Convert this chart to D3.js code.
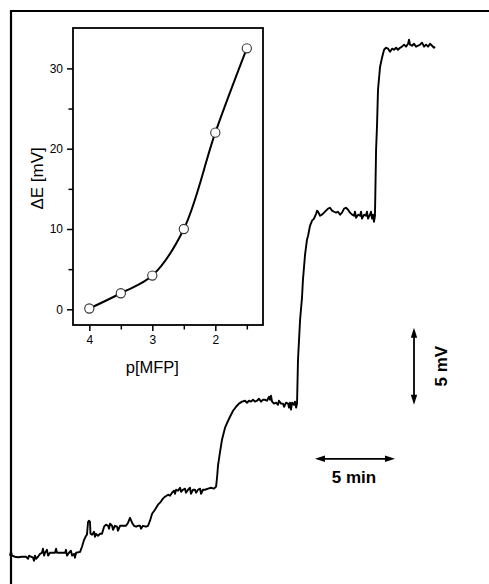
<!DOCTYPE html>
<html><head><meta charset="utf-8">
<script src="https://cdn.jsdelivr.net/npm/d3@7"></script>
<style>body{margin:0;background:#fff} svg{display:block}</style>
</head><body>
<script>
// ---- Main trace: time (min) vs potential change (mV) ----
const traceTime = [0,0.06,0.13,0.31,0.5,0.75,1.0,1.13,1.19,1.31,1.44,1.5,1.56,1.63,1.75,1.88,2.0,2.06,2.13,2.19,2.31,2.38,2.5,2.81,2.88,2.94,3.25,3.44,3.5,3.56,3.69,3.81,3.88,4.0,4.06,4.13,4.38,4.5,4.63,4.75,4.81,4.88,4.94,5.0,5.03,5.13,5.25,5.31,5.38,5.5,5.63,5.75,5.88,6.0,6.13,6.19,6.25,6.38,6.44,6.56,6.69,6.75,6.88,7.13,7.25,7.38,7.5,7.63,7.75,7.88,8.0,8.13,8.19,8.31,8.5,8.63,8.75,8.88,9.06,9.25,9.38,9.56,9.69,9.88,10.0,10.13,10.25,10.31,10.38,10.5,10.63,10.69,10.81,10.94,11.0,11.13,11.25,11.31,11.44,11.56,11.63,11.75,11.88,11.94,12.06,12.19,12.38,12.56,12.75,12.88,12.94,13.0,13.13,13.25,13.44,13.63,13.75,13.94,14.13,14.31,14.5,14.69,14.81,14.94,15.06,15.19,15.31,15.44,15.56,15.69,15.81,15.94,16.06,16.19,16.25,16.31,16.38,16.5,16.63,16.75,16.81,16.94,17.06,17.13,17.25,17.38,17.44,17.5,17.56,17.63,17.75,17.81,17.88,17.94,18.0,18.13,18.25,18.31,18.44,18.56,18.63,18.75,18.88,19.0,19.13,19.19,19.25,19.38,19.5,19.63,19.75,19.88,20.0,20.13,20.25,20.38,20.5,20.63,20.75,20.88,21.0,21.13,21.25,21.38,21.5,21.56,21.63,21.75,21.88,21.94,22.0,22.13,22.25,22.31,22.38,22.5,22.56,22.63,22.69,22.75,22.81,22.88,22.94,23.0,23.13,23.25,23.38,23.5,23.63,23.75,23.88,24.0,24.13,24.25,24.38,24.5,24.63,24.75,24.88,24.94,25.0,25.13,25.25,25.38,25.5,25.63,25.75,25.88,26.0,26.13,26.25,26.38,26.5,26.56];
const traceMV = [-0.06,0.19,-0.06,-0.13,-0.16,-0.13,-0.13,-0.26,-0.06,-0.13,-0.19,-0.39,-0.06,-0.26,-0.13,0.06,0.13,0.39,-0.06,0.13,0.32,-0.06,0.13,0.13,0.39,0.13,0.13,0.13,0.32,-0.06,0.13,0.26,-0.06,0.06,-0.19,0.13,0.19,0.52,0.97,1.23,1.30,2.14,2.21,2.14,1.36,1.30,1.49,1.17,1.36,1.23,1.36,1.36,1.82,1.95,1.88,1.69,2.01,1.88,1.62,1.88,1.82,1.56,1.88,1.88,1.88,2.08,2.40,2.08,1.88,1.82,1.88,1.88,1.69,1.88,1.82,1.88,2.21,2.66,2.92,3.25,3.38,3.64,3.77,3.90,3.83,4.03,4.16,3.96,4.22,4.16,4.35,4.09,4.22,4.29,4.03,4.22,4.35,3.96,4.22,4.22,4.03,4.22,4.29,3.96,4.22,4.22,4.29,4.35,4.29,4.42,5.00,5.78,6.69,7.47,8.25,8.70,8.96,9.35,9.61,9.81,9.94,10.00,9.87,10.00,9.94,10.06,9.94,10.00,10.13,9.94,10.06,10.06,10.00,10.26,10.06,10.32,9.94,9.81,9.87,9.74,10.00,9.81,9.81,9.61,9.87,9.81,9.55,9.87,9.42,9.87,9.74,9.94,9.55,9.81,12.66,15.26,16.69,17.86,19.48,20.45,20.71,21.36,21.69,21.82,22.14,22.34,22.27,22.01,22.08,22.21,22.34,22.47,22.53,22.34,22.27,22.21,22.27,22.08,22.21,22.47,22.53,22.40,22.21,22.08,22.01,22.27,21.88,22.08,22.01,22.27,21.82,22.08,22.01,22.27,21.82,22.08,22.27,21.82,22.08,21.62,22.01,26.30,27.92,30.19,31.69,32.27,32.79,32.92,32.86,32.66,32.86,32.79,32.92,32.79,32.92,32.99,33.12,32.99,33.18,33.44,33.12,33.05,33.18,32.99,33.05,33.12,33.25,32.99,33.12,32.99,33.18,33.05,32.92,32.99];

// ---- Scale bars ----
const scaleBarMinutes = 5;   // horizontal bar length (min)
const scaleBarMillivolts = 5; // vertical bar length (mV)
const scaleBarLabels = ["5 min", "5 mV"];

// ---- Inset: calibration curve ----
const insetPMFP = [4, 3.5, 3, 2.5, 2, 1.5];
const insetDeltaE = [0.1, 2.0, 4.2, 10.0, 22.0, 32.5];
const insetXMajor = [4, 3, 2];
const insetXMinor = [3.5, 2.5, 1.5];
const insetYMajor = [0, 10, 20, 30];
const insetYMinor = [5, 15, 25];
const insetXLabel = "p[MFP]";
const insetYLabel = "ΔE [mV]";

const W = 489, H = 584;
const FONT = "'Liberation Sans', Arial, Helvetica, sans-serif";
const svg = d3.select("body").append("svg").attr("width", W).attr("height", H)
  .style("font-family", FONT);

// Frame (top and left)
svg.append("line").attr("x1", 10).attr("x2", W).attr("y1", 11).attr("y2", 11)
  .attr("stroke", "#000").attr("stroke-width", 2.2);
svg.append("line").attr("x1", 11).attr("x2", 11).attr("y1", 10).attr("y2", H)
  .attr("stroke", "#000").attr("stroke-width", 2.2);

// Main scales
const x = d3.scaleLinear().domain([0, 30]).range([10, 490]);
const y = d3.scaleLinear().domain([-1.9, 35.37]).range([584, 10]);

const trace = traceTime.map((t, i) => [t, traceMV[i]]);
svg.append("path").datum(trace)
  .attr("fill", "none").attr("stroke", "#000").attr("stroke-width", 1.9)
  .attr("stroke-linejoin", "round")
  .attr("d", d3.line().x(d => x(d[0])).y(d => y(d[1])));

// Scale bars with arrowheads
function arrowHead(g, tipX, tipY, dx, dy) {
  const L = 10, Wd = 3.2;
  const bx = tipX - dx * L, by = tipY - dy * L;
  const px = -dy, py = dx;
  g.append("path")
    .attr("d", `M${tipX},${tipY}L${bx + px * Wd},${by + py * Wd}L${bx - px * Wd},${by - py * Wd}Z`)
    .attr("fill", "#000");
}
const sb = svg.append("g");
const hT0 = 19.06, hE = 6.23;
const hx0 = x(hT0), hx1 = x(hT0 + scaleBarMinutes), hy = y(hE);
sb.append("line").attr("x1", hx0 + 4).attr("x2", hx1 - 4).attr("y1", hy).attr("y2", hy)
  .attr("stroke", "#000").attr("stroke-width", 1.8);
arrowHead(sb, hx0, hy, -1, 0);
arrowHead(sb, hx1, hy, 1, 0);
sb.append("text").attr("x", (hx0 + hx1) / 2 - 1).attr("y", hy + 24)
  .attr("text-anchor", "middle").attr("font-weight", "bold").attr("font-size", 17)
  .text(scaleBarLabels[0]);

const vT = 25.25, vE0 = 9.74;
const vx = x(vT), vy0 = y(vE0), vy1 = y(vE0 + scaleBarMillivolts);
sb.append("line").attr("x1", vx).attr("x2", vx).attr("y1", vy0 - 4).attr("y2", vy1 + 4)
  .attr("stroke", "#000").attr("stroke-width", 1.8);
arrowHead(sb, vx, vy0, 0, 1);
arrowHead(sb, vx, vy1, 0, -1);
sb.append("text").attr("transform", `translate(${vx + 33},${(vy0 + vy1) / 2}) rotate(-90)`)
  .attr("text-anchor", "middle").attr("font-weight", "bold").attr("font-size", 17)
  .text(scaleBarLabels[1]);

// ---- Inset ----
const ix = d3.scaleLinear().domain([4.259, 1.243]).range([73, 263]);
const iy = d3.scaleLinear().domain([-1.955, 35.03]).range([325, 28]);
const inset = svg.append("g");

const xAxis = d3.axisBottom(ix).tickValues(insetXMajor).tickSize(6).tickPadding(4).tickFormat(d3.format("d"));
const xAxisMinor = d3.axisBottom(ix).tickValues(insetXMinor).tickSize(4.5).tickFormat("");
const yAxis = d3.axisLeft(iy).tickValues(insetYMajor).tickSize(6).tickPadding(4).tickFormat(d3.format("d"));
const yAxisMinor = d3.axisLeft(iy).tickValues(insetYMinor).tickSize(4.5).tickFormat("");

function styleAxis(g) {
  g.select(".domain").remove();
  g.selectAll("line").attr("stroke", "#000").attr("stroke-width", 1.5);
  g.selectAll("text").attr("fill", "#000").attr("font-size", 12).attr("font-family", FONT);
}
inset.append("g").attr("transform", "translate(0,325)").call(xAxis).call(styleAxis);
inset.append("g").attr("transform", "translate(0,325)").call(xAxisMinor).call(styleAxis);
inset.append("g").attr("transform", "translate(73,0)").call(yAxis).call(styleAxis);
inset.append("g").attr("transform", "translate(73,0)").call(yAxisMinor).call(styleAxis);

inset.append("rect").attr("x", 73).attr("y", 28).attr("width", 190).attr("height", 297)
  .attr("fill", "none").attr("stroke", "#000").attr("stroke-width", 1.8);

inset.append("text").attr("x", ix(3)).attr("y", 373).attr("text-anchor", "middle")
  .attr("font-size", 16.5).text(insetXLabel);
inset.append("text").attr("transform", `translate(43,${iy(16.3)}) rotate(-90)`)
  .attr("text-anchor", "middle").attr("font-size", 17).text(insetYLabel);

const pts = insetPMFP.map((p, i) => [p, insetDeltaE[i]]);
inset.append("path").datum(pts)
  .attr("fill", "none").attr("stroke", "#000").attr("stroke-width", 2)
  .attr("d", d3.line().x(d => ix(d[0])).y(d => iy(d[1])).curve(d3.curveCatmullRom.alpha(0.5)));
inset.selectAll("circle").data(pts).join("circle")
  .attr("cx", d => ix(d[0])).attr("cy", d => iy(d[1])).attr("r", 4.6)
  .attr("fill", "#fff").attr("stroke", "#333").attr("stroke-width", 1.1);
</script>
</body></html>
